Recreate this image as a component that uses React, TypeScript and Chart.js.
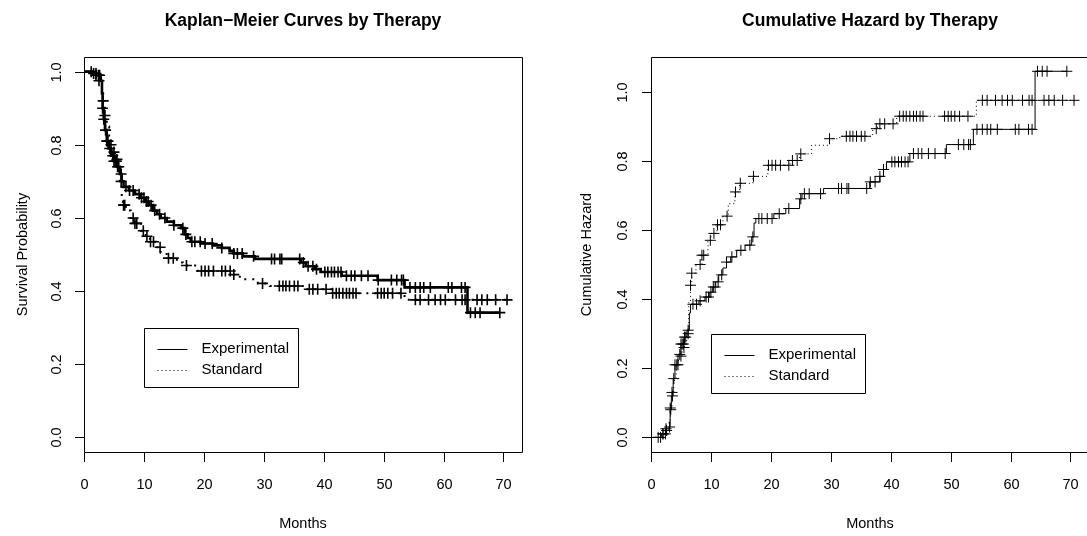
import React, { useEffect, useRef } from "react";
import { Chart, registerables } from "chart.js";

Chart.register(...registerables);

// ---------- data ----------
const seriesNames = ["Experimental", "Standard"];
const xTicks = [0, 10, 20, 30, 40, 50, 60, 70];
const yTicks = [0, 0.2, 0.4, 0.6, 0.8, 1.0];
const yTickLabels = ["0.0", "0.2", "0.4", "0.6", "0.8", "1.0"];

// Kaplan-Meier: Experimental
const kmExpTimes = [0, 1.5, 2.2, 2.8, 3.0, 3.1, 3.3, 3.5, 3.8, 4.1, 4.5, 5.0, 5.5, 6.0, 6.3, 6.6, 7.5, 8.5, 9.5, 10.2, 10.8, 11.5, 12.2, 12.8, 13.8, 15.0, 16.2, 16.8, 17.3, 17.8, 19.5, 21.5, 23.0, 24.3, 25.0, 26.5, 28.5, 36.2, 37.0, 38.5, 39.5, 43.0, 49.0, 53.5, 64.0];
const kmExpSurv = [1.0, 0.995, 0.99, 0.975, 0.94, 0.9, 0.87, 0.84, 0.81, 0.79, 0.77, 0.755, 0.74, 0.72, 0.7, 0.685, 0.675, 0.665, 0.655, 0.645, 0.635, 0.62, 0.61, 0.6, 0.59, 0.58, 0.572, 0.555, 0.545, 0.535, 0.53, 0.525, 0.518, 0.51, 0.503, 0.495, 0.488, 0.478, 0.468, 0.46, 0.452, 0.442, 0.43, 0.41, 0.341];

// Kaplan-Meier: Standard
const kmStdTimes = [0, 1.8, 2.5, 3.0, 3.2, 3.5, 3.8, 4.2, 4.6, 5.2, 5.6, 6.0, 6.3, 6.5, 7.0, 7.8, 8.5, 9.5, 10.3, 11.0, 12.0, 12.8, 13.8, 15.5, 16.5, 19.0, 24.5, 26.0, 29.0, 31.0, 37.0, 41.5, 53.5];
const kmStdSurv = [1.0, 0.99, 0.975, 0.95, 0.92, 0.88, 0.85, 0.8, 0.78, 0.76, 0.74, 0.7, 0.66, 0.635, 0.62, 0.6, 0.585, 0.565, 0.55, 0.535, 0.52, 0.505, 0.49, 0.478, 0.47, 0.455, 0.445, 0.432, 0.421, 0.414, 0.405, 0.394, 0.376];

// Cumulative hazard: Experimental
const chExpTimes = [0, 1.8, 2.5, 3.0, 3.2, 3.4, 3.7, 4.0, 4.5, 5.0, 5.5, 6.0, 6.4, 6.6, 8.0, 9.0, 9.8, 10.3, 10.8, 11.3, 12.0, 12.6, 13.3, 14.3, 15.7, 16.8, 17.2, 17.5, 20.5, 22.5, 24.8, 25.2, 28.8, 36.5, 38.2, 38.8, 39.3, 43.2, 49.3, 53.8, 64.1];
const chExpHaz = [0, 0.01, 0.02, 0.03, 0.08, 0.12, 0.17, 0.21, 0.24, 0.27, 0.29, 0.31, 0.36, 0.385, 0.395, 0.406, 0.42, 0.435, 0.45, 0.47, 0.49, 0.507, 0.522, 0.541, 0.556, 0.58, 0.62, 0.633, 0.647, 0.662, 0.69, 0.705, 0.72, 0.739, 0.755, 0.775, 0.797, 0.821, 0.847, 0.891, 1.059];

// Cumulative hazard: Standard
const chStdTimes = [0, 1.8, 2.5, 3.0, 3.2, 3.5, 3.8, 4.2, 4.6, 5.2, 5.6, 6.0, 6.3, 6.6, 6.8, 7.5, 8.5, 9.5, 10.0, 11.0, 12.0, 12.9, 14.0, 14.8, 17.0, 19.5, 23.2, 24.8, 26.8, 29.8, 31.5, 37.0, 37.8, 41.0, 54.3];
const chStdHaz = [0, 0.01, 0.025, 0.05, 0.085, 0.13, 0.165, 0.21, 0.235, 0.26, 0.28, 0.3, 0.39, 0.44, 0.475, 0.5, 0.527, 0.57, 0.59, 0.615, 0.64, 0.676, 0.71, 0.735, 0.755, 0.787, 0.801, 0.82, 0.845, 0.864, 0.871, 0.893, 0.907, 0.929, 0.975];

// Censoring times (months)
const expCensor = [1.2, 1.6, 2.0, 2.4, 2.6, 3.1, 3.3, 3.6, 3.8, 4.0, 4.3, 4.8, 5.0, 5.2, 5.4, 5.6, 5.8, 6.2, 7.0, 7.6, 8.2, 9.2, 9.6, 10.0, 10.4, 10.7, 11.2, 11.8, 12.6, 13.5, 15.0, 16.5, 17.0, 18.0, 18.5, 19.4, 20.2, 21.4, 23.0, 25.0, 25.6, 26.4, 28.3, 31.3, 31.8, 32.7, 33.0, 36.0, 36.6, 37.4, 38.2, 38.8, 40.2, 40.7, 41.3, 41.8, 42.4, 42.9, 43.8, 44.6, 45.2, 46.3, 47.4, 49.1, 51.3, 52.2, 53.0, 53.3, 54.4, 55.3, 56.1, 56.7, 57.8, 60.8, 61.4, 63.0, 63.6, 64.5, 65.3, 66.1, 69.4];
const stdCensor = [2.0, 2.5, 3.2, 3.5, 4.5, 5.0, 5.5, 6.2, 6.6, 6.8, 8.2, 8.5, 8.8, 9.9, 10.5, 11.1, 11.6, 12.7, 14.1, 14.9, 17.1, 19.6, 20.2, 20.8, 21.6, 23.0, 23.6, 24.4, 25.0, 29.8, 32.6, 33.2, 33.7, 34.3, 35.1, 35.7, 37.6, 38.2, 39.0, 40.4, 41.5, 42.1, 42.6, 43.2, 43.8, 44.3, 44.9, 45.4, 49.0, 49.6, 50.1, 50.7, 51.5, 52.9, 55.3, 56.1, 57.5, 58.6, 59.5, 60.3, 62.0, 63.1, 63.6, 65.6, 66.4, 67.3, 68.7, 70.6];

// ---------- helpers ----------
const FONT = '"Liberation Sans", Arial, Helvetica, sans-serif';

function stepAt(times: number[], vals: number[], t: number) {
  let v = vals[0];
  for (let i = 0; i < times.length; i++) {
    if (times[i] <= t) v = vals[i];
    else break;
  }
  return v;
}

function buildSeries(times: number[], vals: number[], censor: number[]) {
  const line = times.map((t, i) => ({ x: t, y: vals[i] }));
  const last = censor[censor.length - 1];
  if (last > times[times.length - 1]) line.push({ x: last, y: vals[vals.length - 1] });
  const marks = censor.map((t) => ({ x: t, y: stepAt(times, vals, t) }));
  return { line, marks };
}

type Panel = {
  title: string;
  yLabel: string;
  yMin: number;
  yMax: number;
  xMax: number;
  pad: { left: number; right: number; top: number; bottom: number };
  yTickLabelOffset: number;
  yTitleOffset: number;
  series: { times: number[]; vals: number[]; censor: number[]; width: number; dash: number[]; markWidth: number }[];
};

const kmPanel: Panel = {
  title: "Kaplan\u2212Meier Curves by Therapy",
  yLabel: "Survival Probability",
  yMin: -0.04,
  yMax: 1.04,
  xMax: 73.1,
  pad: { left: 84, right: 21, top: 57, bottom: 84 },
  yTickLabelOffset: 27,
  yTitleOffset: 61,
  series: [
    { times: kmExpTimes, vals: kmExpSurv, censor: expCensor, width: 2.6, dash: [], markWidth: 1.6 },
    { times: kmStdTimes, vals: kmStdSurv, censor: stdCensor, width: 2, dash: [2, 6], markWidth: 1.6 },
  ],
};

const chPanel: Panel = {
  title: "Cumulative Hazard by Therapy",
  yLabel: "Cumulative Hazard",
  yMin: -0.0423,
  yMax: 1.1003,
  xMax: 73.1,
  pad: { left: 108, right: 14, top: 57, bottom: 84 },
  yTickLabelOffset: 28.5,
  yTitleOffset: 64,
  series: [
    { times: chExpTimes, vals: chExpHaz, censor: expCensor, width: 1, dash: [], markWidth: 1 },
    { times: chStdTimes, vals: chStdHaz, censor: stdCensor, width: 1, dash: [1, 3], markWidth: 1 },
  ],
};

function rAxesPlugin(p: Panel) {
  return {
    id: "rAxes",
    afterDraw(chart: any) {
      const ctx = chart.ctx as CanvasRenderingContext2D;
      const a = chart.chartArea;
      const xs = chart.scales.x;
      const ys = chart.scales.y;
      const L = Math.round(a.left) + 0.5;
      const R = Math.round(a.right) + 0.5;
      const T = Math.round(a.top) + 0.5;
      const B = Math.round(a.bottom) + 0.5;
      ctx.save();
      ctx.strokeStyle = "#000";
      ctx.fillStyle = "#000";
      ctx.lineWidth = 1;
      ctx.setLineDash([]);
      // box
      ctx.beginPath();
      ctx.rect(L, T, R - L, B - T);
      ctx.stroke();
      // x axis ticks & labels
      const tickLen = 9.5;
      ctx.font = `14.5px ${FONT}`;
      ctx.textAlign = "center";
      ctx.textBaseline = "middle";
      xTicks.forEach((v) => {
        const px = Math.round(xs.getPixelForValue(v)) + 0.5;
        ctx.beginPath();
        ctx.moveTo(px, B);
        ctx.lineTo(px, B + tickLen);
        ctx.stroke();
        ctx.fillText(String(v), px, a.bottom + 33);
      });
      // y axis ticks & labels
      yTicks.forEach((v, i) => {
        const py = Math.round(ys.getPixelForValue(v)) + 0.5;
        ctx.beginPath();
        ctx.moveTo(L, py);
        ctx.lineTo(L - tickLen, py);
        ctx.stroke();
        ctx.save();
        ctx.translate(a.left - p.yTickLabelOffset, py);
        ctx.rotate(-Math.PI / 2);
        ctx.fillText(yTickLabels[i], 0, 0);
        ctx.restore();
      });
      // axis titles
      ctx.font = `14.5px ${FONT}`;
      ctx.fillText("Months", (a.left + a.right) / 2, a.bottom + 72);
      ctx.save();
      ctx.translate(a.left - p.yTitleOffset, (a.top + a.bottom) / 2);
      ctx.rotate(-Math.PI / 2);
      ctx.fillText(p.yLabel, 0, 0);
      ctx.restore();
      // main title
      ctx.font = `bold 17.5px ${FONT}`;
      ctx.fillText(p.title, (a.left + a.right) / 2, 21.5);
      // legend at (10, 0.3)
      const lx = Math.round(xs.getPixelForValue(10)) + 0.5;
      const ly = Math.round(ys.getPixelForValue(0.3)) + 0.5;
      const lw = 154;
      const lh = 59;
      ctx.fillStyle = "#fff";
      ctx.fillRect(lx, ly, lw, lh);
      ctx.fillStyle = "#000";
      ctx.beginPath();
      ctx.rect(lx, ly, lw, lh);
      ctx.stroke();
      const rows = [20.5, 41];
      const dashes = [[], [1, 3]];
      ctx.font = `15px ${FONT}`;
      ctx.textAlign = "left";
      seriesNames.forEach((name, i) => {
        const yy = Math.round(ly + rows[i]) + 0.5;
        ctx.setLineDash(dashes[i]);
        ctx.beginPath();
        ctx.moveTo(lx + 13, yy);
        ctx.lineTo(lx + 43, yy);
        ctx.stroke();
        ctx.setLineDash([]);
        ctx.fillText(name, lx + 57, ly + rows[i]);
      });
      ctx.restore();
    },
  };
}

function makeConfig(p: Panel): any {
  const datasets: any[] = [];
  p.series.forEach((s, i) => {
    const built = buildSeries(s.times, s.vals, s.censor);
    datasets.push({
      label: seriesNames[i],
      data: built.line,
      showLine: true,
      stepped: true,
      borderColor: "#000",
      borderWidth: s.width,
      borderDash: s.dash,
      pointRadius: 0,
      fill: false,
    });
    datasets.push({
      label: seriesNames[i] + " censored",
      data: built.marks,
      showLine: false,
      pointStyle: "cross",
      pointRadius: 5.5,
      pointBorderColor: "#000",
      pointBackgroundColor: "#000",
      pointBorderWidth: s.markWidth,
    });
  });
  return {
    type: "scatter",
    data: { datasets },
    options: {
      animation: false,
      responsive: false,
      devicePixelRatio: 1,
      events: [],
      layout: { padding: p.pad },
      plugins: { legend: { display: false }, tooltip: { enabled: false }, title: { display: false } },
      scales: {
        x: { type: "linear", min: 0, max: p.xMax, display: false },
        y: { type: "linear", min: p.yMin, max: p.yMax, display: false },
      },
    },
    plugins: [rAxesPlugin(p)],
  };
}

export default function App() {
  const leftRef = useRef<HTMLCanvasElement>(null);
  const rightRef = useRef<HTMLCanvasElement>(null);
  useEffect(() => {
    document.body.style.margin = "0";
    document.body.style.overflow = "hidden";
    const c1 = new Chart(leftRef.current as HTMLCanvasElement, makeConfig(kmPanel));
    const c2 = new Chart(rightRef.current as HTMLCanvasElement, makeConfig(chPanel));
    return () => {
      c1.destroy();
      c2.destroy();
    };
  }, []);
  return (
    <div style={{ position: "fixed", left: 0, top: 0, width: 1087, height: 536, overflow: "hidden", background: "#fff" }}>
      <canvas ref={leftRef} width={543} height={536} style={{ position: "absolute", left: 0, top: 0 }} />
      <canvas ref={rightRef} width={560} height={536} style={{ position: "absolute", left: 543, top: 0 }} />
    </div>
  );
}
